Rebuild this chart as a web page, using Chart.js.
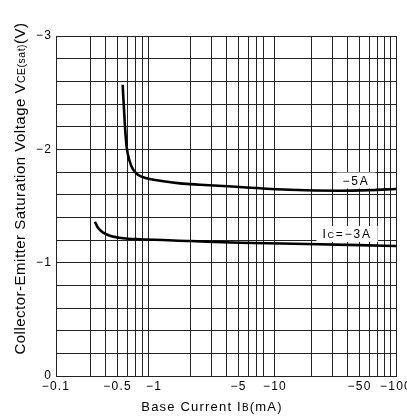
<!DOCTYPE html>
<html><head><meta charset="utf-8">
<script src="https://cdn.jsdelivr.net/npm/chart.js@4"></script>
<style>html,body{margin:0;padding:0;background:#fff;overflow:hidden}</style>
</head><body>
<canvas id="c" width="407" height="416"></canvas>
<script>
// ---- data ----
const xMin = 0.155;                       // left edge of the axis (labelled "−0.1" on the original)
const xMax = 100;
const xTickValues = [xMin, 0.5, 1, 5, 10, 50, 100];
const xTickLabels = ['−0.1', '−0.5', '−1', '−5', '−10', '−50', '−100'];
const xGridValues = [0.3,0.4,0.5,0.6,0.7,0.8,0.9, 2,3,4,5,6,7,8, 10, 20,30,40,50,60,70,80,90, 100];
const yGridValues = [0,-0.2,-0.4,-0.6,-0.8,-1,-1.2,-1.4,-1.6,-1.8,-2,-2.2,-2.4,-2.6,-2.8,-3];
const yTickValues = [0, -1, -2, -3];
const yTickLabels = ['0', '−1', '−2', '−3'];

// Ic = -5A
const ib5A  = [0.551, 0.576, 0.595, 0.625, 0.675, 0.742, 0.870, 1.12, 1.64, 2.4, 5.1, 13.3, 34, 60, 100];
const vce5A = [-2.57, -2.20, -2.02, -1.906, -1.818, -1.774, -1.744, -1.723, -1.70, -1.688, -1.668, -1.643, -1.635, -1.64, -1.65];
// Ic = -3A
const ib3A  = [0.325, 0.347, 0.381, 0.433, 0.557, 0.77, 1.98, 5.1, 18.3, 50, 100];
const vce3A = [-1.361, -1.303, -1.265, -1.238, -1.215, -1.206, -1.191, -1.176, -1.165, -1.155, -1.147];

// curve labels: [text parts, x value, y value]
const curveLabels = [
  { parts: [['−5A', 12]], x: 46.7, y: -1.725 },
  { parts: [['I', 12], ['C', 9], ['=−3A', 12]], x: 39.4, y: -1.253 }
];

const FONT = '"Liberation Sans", Arial, Helvetica, sans-serif';
Chart.defaults.font.family = FONT;
Chart.defaults.color = '#000';

function measureParts(ctx, parts, spacing) {
  let w = 0;
  ctx.letterSpacing = spacing + 'px';
  const ws = parts.map(p => { ctx.font = p[1] + 'px ' + FONT; const m = ctx.measureText(p[0]).width; w += m; return m; });
  return { w, ws };
}
function drawParts(ctx, parts, cx, baseY, spacing) {
  const { w, ws } = measureParts(ctx, parts, spacing);
  let x = cx - w / 2;
  parts.forEach((p, i) => { ctx.font = p[1] + 'px ' + FONT; ctx.fillText(p[0], x, baseY); x += ws[i]; });
  return w;
}

const textPlugin = {
  id: 'texts',
  beforeDraw(chart) { chart.ctx.letterSpacing = '1.2px'; },
  afterDatasetsDraw(chart) {
    const ctx = chart.ctx, xs = chart.scales.x, ys = chart.scales.y;
    curveLabels.forEach(l => {
      const px = xs.getPixelForValue(l.x), py = ys.getPixelForValue(l.y);
      ctx.save();
      const { w } = measureParts(ctx, l.parts, 1.8);
      ctx.fillStyle = '#fff';
      ctx.fillRect(px - w / 2 - 6, py - 8, w + 12, 16);
      ctx.fillStyle = '#000';
      ctx.textBaseline = 'alphabetic';
      ctx.textAlign = 'left';
      drawParts(ctx, l.parts, px, py + 4.2, 1.8);
      ctx.restore();
    });
  },
  afterDraw(chart) {
    const ctx = chart.ctx;
    ctx.save();
    ctx.fillStyle = '#000';
    ctx.textBaseline = 'alphabetic';
    ctx.textAlign = 'left';
    // x title
    drawParts(ctx, [['Base Current I', 13], ['B', 10], ['(mA)', 13]], 212, 411, 1.2);
    // y title
    ctx.translate(25, 188.5);
    ctx.rotate(-Math.PI / 2);
    drawParts(ctx, [['Collector-Emitter Saturation Voltage V', 15], ['CE(sat)', 10.5], ['(V)', 15]], 0, 0, 0.5);
    ctx.restore();
  }
};

const xAllTicks = Array.from(new Set([...xTickValues, ...xGridValues])).sort((a, b) => a - b);

new Chart(document.getElementById('c').getContext('2d'), {
  type: 'line',
  data: {
    datasets: [
      { label: 'Ic=-5A', data: ib5A.map((x, i) => ({ x, y: vce5A[i] })), borderColor: '#000', borderWidth: 2.6, pointRadius: 0, cubicInterpolationMode: 'monotone', fill: false },
      { label: 'Ic=-3A', data: ib3A.map((x, i) => ({ x, y: vce3A[i] })), borderColor: '#000', borderWidth: 2.6, pointRadius: 0, cubicInterpolationMode: 'monotone', fill: false }
    ]
  },
  options: {
    responsive: false, animation: false, devicePixelRatio: 1,
    layout: { padding: { left: 0, right: 11, top: 36, bottom: 0 } },
    plugins: { legend: { display: false }, tooltip: { enabled: false } },
    scales: {
      x: {
        type: 'logarithmic', min: xMin, max: xMax,
        afterBuildTicks: s => { s.ticks = xAllTicks.map(v => ({ value: v })); },
        afterFit: s => { s.height = 40; s.paddingLeft = 0; s.paddingRight = 0; },
        grid: { color: c => (c.tick && xGridValues.includes(c.tick.value)) ? '#222' : 'rgba(0,0,0,0)', lineWidth: 1, drawTicks: false },
        border: { color: '#222', width: 1 },
        ticks: {
          autoSkip: false, maxRotation: 0, minRotation: 0, padding: 3, color: '#000', font: { size: 12 },
          callback: v => { const i = xTickValues.indexOf(v); return i >= 0 ? xTickLabels[i] : ''; }
        }
      },
      y: {
        type: 'linear', min: -3, max: 0, reverse: true,
        afterBuildTicks: s => { s.ticks = yGridValues.map(v => ({ value: v })); },
        afterFit: s => { s.width = 56; s.paddingTop = 0; s.paddingBottom = 0; },
        grid: { color: '#222', lineWidth: 1, drawTicks: false },
        border: { color: '#222', width: 1 },
        ticks: {
          autoSkip: false, padding: 4, color: '#000', font: { size: 12 },
          callback: v => { const i = yTickValues.findIndex(t => Math.abs(t - v) < 1e-6); return i >= 0 ? yTickLabels[i] : ''; }
        }
      }
    }
  },
  plugins: [textPlugin]
});
</script>
</body></html>
